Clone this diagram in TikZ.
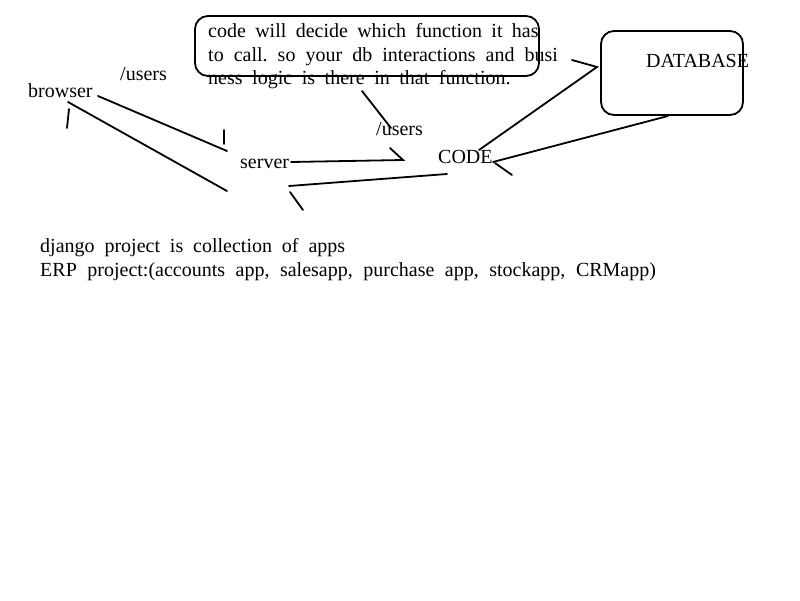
\documentclass[tikz,border=0pt]{standalone}
\usepackage{fontspec}
\setmainfont{Liberation Serif}
\newlength\wsum
\newcount\wn
\newcommand\wordfont{\fontsize{20}{22}\selectfont}
% measure: #1 name, #2 total width, #3 words -> \gap<name>
\newcommand\wmeasure[3]{%
  \global\wsum=0pt\relax\global\wn=0\relax
  \foreach \w in {#3}{\setbox0=\hbox{\wordfont\w}\global\advance\wsum by \wd0\relax\global\advance\wn by 1\relax}%
  \pgfmathsetlengthmacro\wtmp{(#2-\the\wsum)/(\the\wn-1)}%
  \expandafter\xdef\csname gap#1\endcsname{\wtmp}%
}
% place: #1 name prefix, #2 start coordinate, #3 words
\newcommand\wline[3]{%
  \foreach \w [count=\i] in {#3}{%
    \ifnum\i=1\relax
      \node[lbl] (#1-\i) at #2 {\phantom{\w}};
    \else
      \pgfmathtruncatemacro\j{\i-1}%
      \node[lbl] (#1-\i) at ([xshift=\csname gap#1\endcsname]#1-\j.base east) {\phantom{\w}};
    \fi
  }%
  \foreach \w [count=\i] in {#3}{\ifodd\i\relax \node[lbl] (#1-w\i) at (#1-\i.base west) {\w};\fi}%
  \foreach \w [count=\i] in {#3}{\ifodd\i\relax\else \node[lbl] (#1-w\i) at (#1-\i.base west) {\w};\fi}%
}
\begin{document}
\wmeasure{t1}{328pt}{code,will,decide,which,function,it,has}%
\wmeasure{t2}{347pt}{to,call.,so,your,db,interactions,and,busi}%
\wmeasure{t3}{300pt}{ness,logic,is,there,in,that,function.}%
\wmeasure{b1}{303pt}{django,project,is,collection,of,apps}%
\wmeasure{b2}{613pt}{ERP,project:(accounts,{app,},{salesapp,},purchase,{app,},{stockapp,},CRMapp)}%
\begin{tikzpicture}[x=1pt,y=-1pt,
  lbl/.style={inner sep=0pt,anchor=base west,font=\wordfont},
  stroke/.style={line width=1.8pt,line cap=round},
  rbox/.style={draw,line width=1.8pt,rounded corners=13pt}]
\useasboundingbox (0,0) rectangle (800,600);
% boxes
\draw[rbox] (195,16) rectangle (539,76);
\draw[rbox] (601,31) rectangle (743,115);
% texts
\node[lbl] (browser) at (28,97) {browser};
\node[lbl] (users1) at (120,80) {/users};
\node[lbl] (server) at (240,168) {server};
\node[lbl] (users2) at (376,135) {/users};
\node[lbl] (code) at (438,163) {CODE};
\node[lbl] (db) at (646,67) {DATABASE};
\wline{t1}{(208,37)}{code,will,decide,which,function,it,has}
\wline{t2}{(208,61)}{to,call.,so,your,db,interactions,and,busi}
\wline{t3}{(208,84)}{ness,logic,is,there,in,that,function.}
\wline{b1}{(40,252)}{django,project,is,collection,of,apps}
\wline{b2}{(40,276)}{ERP,project:(accounts,{app,},{salesapp,},purchase,{app,},{stockapp,},CRMapp)}
% connector end points
\coordinate (a1) at (98,96);  \coordinate (a2) at (227,151);
\coordinate (k1) at (224,130); \coordinate (k2) at (224,144);
\coordinate (c1) at (68,102); \coordinate (c2) at (227,191);
\coordinate (l1) at (69,109); \coordinate (l2) at (67,128);
\coordinate (s1) at (291,162); \coordinate (s2) at (403,160);
\coordinate (h1) at (390,148);
\coordinate (r1) at (447,174); \coordinate (r2) at (289,186);
\coordinate (m1) at (290,192); \coordinate (m2) at (303,210);
\coordinate (n1) at (362,91); \coordinate (n2) at (391,128);
\coordinate (d1) at (479,150); \coordinate (d2) at (597,67);
\coordinate (e1) at (572,60);
\coordinate (f1) at (668,116); \coordinate (f2) at (493,162);
\coordinate (g1) at (512,175);
% connectors
\draw[stroke] (a1) -- (a2);
\draw[stroke] (k1) -- (k2);
\draw[stroke] (c1) -- (c2);
\draw[stroke] (l1) -- (l2);
\draw[stroke] (s1) -- (s2) -- (h1);
\draw[stroke] (r1) -- (r2);
\draw[stroke] (m1) -- (m2);
\draw[stroke] (n1) -- (n2);
\draw[stroke] (d1) -- (d2) -- (e1);
\draw[stroke] (f1) -- (f2);
\draw[stroke] (f2) ++(2,1) -- (g1);
\end{tikzpicture}
\end{document}
